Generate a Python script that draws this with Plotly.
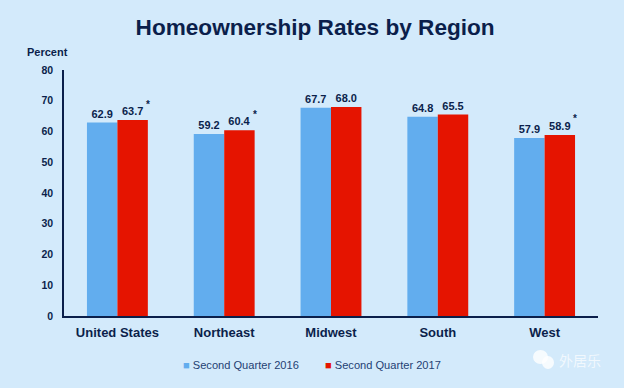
import plotly.graph_objects as go

regions = ["United States", "Northeast", "Midwest", "South", "West"]
q2_2016 = [62.9, 59.2, 67.7, 64.8, 57.9]
q2_2017 = [63.7, 60.4, 68.0, 65.5, 58.9]
starred_2017 = ["United States", "Northeast", "West"]
y_ticks = [0, 10, 20, 30, 40, 50, 60, 70, 80]
series_names = ["Second Quarter 2016", "Second Quarter 2017"]

NAVY = "#0b1f4b"
BG = "#d3eafb"
BLUE = "#62adee"
RED = "#e51400"
FONT = "Liberation Sans, Arial, sans-serif"

W, H, L, R, T, B = 624, 388, 64, 26, 70, 72
def px(x): return (x - L) / (W - L - R)
def py(y): return (H - B - y) / (H - T - B)

fig = go.Figure()
for name, vals, col in [(series_names[0], q2_2016, BLUE), (series_names[1], q2_2017, RED)]:
    fig.add_bar(name=name, x=regions, y=vals, marker_color=col, marker_line_width=0,
                text=[f"{v:.1f}" for v in vals], textposition="outside", cliponaxis=False,
                textfont=dict(size=11, color=NAVY, family=FONT, weight="bold"), showlegend=False)

for r in starred_2017:
    v = q2_2017[regions.index(r)]
    fig.add_annotation(x=r, y=v, text="*", showarrow=False, xshift=30.5, yshift=16,
                       font=dict(size=10, color=NAVY, family=FONT, weight="bold"))

fig.add_annotation(xref="paper", yref="paper", x=px(70), y=py(52), text="Percent",
                   showarrow=False, xanchor="right", yanchor="middle",
                   font=dict(size=11, color=NAVY, family=FONT, weight="bold"))

for name, col, xpos in [(series_names[0], BLUE, 181), (series_names[1], RED, 323)]:
    fig.add_annotation(xref="paper", yref="paper", x=px(xpos), y=py(365), showarrow=False,
                       xanchor="left", yanchor="middle",
                       text=f"<span style='color:{col}'>■</span> {name}",
                       font=dict(size=11.1, color="#1f3f73", family=FONT))

fig.add_annotation(xref="paper", yref="paper", x=px(580), y=py(360), text="外居乐", showarrow=False,
                   xanchor="center", yanchor="middle",
                   font=dict(size=14, color="rgba(255,255,255,0.7)", family="Noto Sans CJK SC"))
for x0, y0, x1, y1 in [(533, 350, 548, 364), (542, 356, 554, 369)]:
    fig.add_shape(type="circle", xref="paper", yref="paper", x0=px(x0), x1=px(x1), y0=py(y0), y1=py(y1),
                  fillcolor="rgba(255,255,255,0.8)", line_width=0)

fig.update_layout(
    width=W, height=H, autosize=False,
    margin=dict(l=L, r=R, t=T, b=B),
    paper_bgcolor=BG, plot_bgcolor=BG,
    barmode="group", bargap=0.43, bargroupgap=0, showlegend=False,
    title=dict(text="<b>Homeownership Rates by Region</b>", x=0.505, xanchor="center", y=0.93,
               yanchor="middle", font=dict(size=22.6, color=NAVY, family=FONT)),
    xaxis=dict(showline=True, linecolor=NAVY, linewidth=1.5, ticks="outside", ticklen=4,
               tickcolor="rgba(0,0,0,0)", showgrid=False,
               tickfont=dict(size=13, color=NAVY, family=FONT, weight="bold")),
    yaxis=dict(range=[0, 80], tickvals=y_ticks, showline=True, linecolor=NAVY, linewidth=1.5,
               ticks="outside", ticklen=7, tickcolor="rgba(0,0,0,0)", showgrid=False, zeroline=False,
               tickfont=dict(size=10.5, color=NAVY, family=FONT, weight="bold")),
)
fig.write_html("out.html", config={"displayModeBar": False},
               post_script="document.body.style.margin='0';document.body.style.overflow='hidden';")
